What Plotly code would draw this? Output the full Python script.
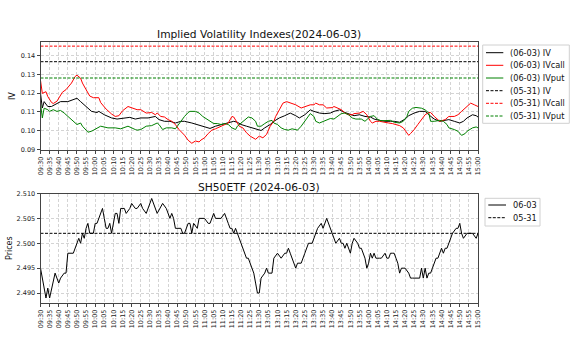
import plotly.graph_objects as go

# ---------------- data ----------------
tick_labels = ["09:30","09:35","09:40","09:45","09:50","09:55","10:00","10:05","10:10","10:15",
               "10:20","10:25","10:30","10:35","10:40","10:45","10:50","10:55","11:00","11:05",
               "11:10","11:15","11:20","11:25","11:30","13:05","13:10","13:15","13:20","13:25",
               "13:30","13:35","13:40","13:45","13:50","13:55","14:00","14:05","14:10","14:15",
               "14:20","14:25","14:30","14:35","14:40","14:45","14:50","14:55","15:00"]
tick_step = 5  # trading minutes between tick labels

iv_ticks = [0.09, 0.10, 0.11, 0.12, 0.13, 0.14]
iv_tick_labels = ["0.09", "0.10", "0.11", "0.12", "0.13", "0.14"]
price_ticks = [2.490, 2.495, 2.500, 2.505, 2.510]
price_tick_labels = ["2.490", "2.495", "2.500", "2.505", "2.510"]

# trading minutes since 09:30 (lunch break removed) and values
iv_t = [0,1,2,4,6,9,11,15,18,20,22,25,28,31,32,35,39,42,46,49,52,55,59,63,65,68,71,74,77,79,
        83,86,90,93,96,99,103,106,108,110,113,116,118,121,123,126,128,131,134,137,140,142,145,148,150,
        153,156,159,161,164,167,170,172,175,178,181,183,186,189,192,194,197,200,202,205,208,211,213,216,
        219,222,224,227,230,232,234,237,239,240]
iv_v = [0.1198,0.1120,0.1154,0.1128,0.1128,0.1146,0.1154,0.1154,0.1163,0.1172,0.1154,0.1128,0.1102,0.1096,0.1102,
        0.1084,0.1067,0.1061,0.1067,0.1070,0.1061,0.1067,0.1067,0.1075,0.1058,0.1049,0.1049,0.1040,0.1049,0.1049,
        0.1040,0.1032,0.1023,0.1011,0.1023,0.1032,0.1040,0.1049,0.1044,0.1032,0.1023,0.1014,0.1005,0.1000,0.1014,
        0.1032,0.1049,0.1067,0.1079,0.1093,0.1079,0.1067,0.1084,0.1110,0.1102,0.1093,0.1090,0.1093,0.1102,0.1110,
        0.1096,0.1084,0.1079,0.1084,0.1075,0.1072,0.1061,0.1054,0.1049,0.1049,0.1049,0.1044,0.1061,0.1079,0.1093,
        0.1102,0.1102,0.1084,0.1061,0.1049,0.1054,0.1058,0.1049,0.1040,0.1049,0.1067,0.1084,0.1079,0.1072]

ivcall_t = [0,1,3,4,6,7,9,11,12,14,17,19,20,22,23,25,27,29,32,33,36,39,41,43,45,48,51,53,55,58,
            61,63,64,66,68,70,72,74,76,79,81,83,85,87,88,90,92,94,96,97,99,101,103,105,106,108,109,111,113,115,
            117,118,120,122,124,126,128,129,131,133,135,138,140,143,145,148,150,151,153,155,157,160,161,163,165,
            167,169,171,172,175,177,179,181,182,184,186,188,191,193,195,197,199,201,202,203,205,207,209,211,213,
            214,216,219,222,224,227,229,231,234,236,238,240]
ivcall_v = [0.1267,0.1198,0.1207,0.1181,0.1150,0.1144,0.1156,0.1191,0.1204,0.1218,0.1253,0.1288,0.1295,0.1279,0.1253,
            0.1218,0.1184,0.1175,0.1175,0.1149,0.1114,0.1088,0.1075,0.1079,0.1105,0.1128,0.1120,0.1111,0.1111,0.1093,
            0.1096,0.1084,0.1093,0.1075,0.1072,0.1058,0.1049,0.1032,0.1005,0.0975,0.0948,0.0932,0.0944,0.0939,0.0949,
            0.0961,0.0984,0.1002,0.1009,0.1014,0.1023,0.1032,0.1040,0.1075,0.1072,0.1040,0.1023,0.1014,0.0988,0.0970,
            0.0961,0.0953,0.0970,0.0961,0.0979,0.1023,0.1049,0.1075,0.1110,0.1146,0.1154,0.1146,0.1137,0.1120,0.1128,
            0.1137,0.1137,0.1146,0.1137,0.1137,0.1120,0.1122,0.1128,0.1120,0.1111,0.1093,0.1084,0.1084,0.1090,0.1093,
            0.1102,0.1084,0.1049,0.1040,0.1049,0.1049,0.1044,0.1040,0.1037,0.1032,0.1026,0.1014,0.0991,0.0974,0.0984,
            0.1005,0.1032,0.1058,0.1084,0.1096,0.1096,0.1075,0.1049,0.1058,0.1075,0.1075,0.1084,0.1102,0.1128,0.1146,
            0.1137,0.1128]

ivput_t = [0,1,2,4,5,7,9,11,13,16,19,20,22,23,25,26,28,31,33,37,41,44,48,52,53,55,58,61,64,65,
           67,69,72,74,75,77,79,81,82,85,87,89,92,95,97,99,101,103,105,107,108,110,112,114,116,118,119,121,123,
           125,127,128,130,132,134,136,138,140,141,143,145,147,148,150,151,153,155,157,159,161,163,165,167,169,
           171,173,176,178,180,181,183,185,187,190,192,194,197,199,201,202,204,206,209,211,213,214,216,219,221,
           223,224,227,229,231,233,234,237,239,240]
ivput_v = [0.1145,0.1067,0.1119,0.1111,0.1102,0.1111,0.1102,0.1107,0.1093,0.1067,0.1040,0.1032,0.1040,0.1023,0.1002,
           0.0991,0.0996,0.1014,0.1023,0.1014,0.1014,0.1009,0.1023,0.1005,0.1002,0.1005,0.1023,0.1026,0.1040,0.1032,
           0.1005,0.1014,0.1014,0.1009,0.1023,0.1049,0.1075,0.1096,0.1102,0.1102,0.1093,0.1075,0.1054,0.1037,0.1037,
           0.1032,0.1037,0.1032,0.1014,0.1005,0.1023,0.1040,0.1058,0.1072,0.1067,0.1049,0.1023,0.1023,0.1037,0.1049,
           0.1054,0.1040,0.1032,0.1014,0.1005,0.1002,0.1009,0.1005,0.1002,0.1023,0.1049,0.1075,0.1090,0.1075,0.1049,
           0.1040,0.1049,0.1058,0.1064,0.1061,0.1075,0.1090,0.1093,0.1084,0.1067,0.1061,0.1061,0.1049,0.1067,0.1075,
           0.1079,0.1058,0.1052,0.1052,0.1054,0.1044,0.1040,0.1049,0.1075,0.1102,0.1119,0.1123,0.1119,0.1110,0.1093,
           0.1049,0.1049,0.1054,0.1049,0.1032,0.1014,0.1005,0.0996,0.0974,0.0984,0.0996,0.1014,0.1019,0.1014]

prev_iv = 0.1367
prev_ivcall = 0.1450
prev_ivput = 0.1280

price_t = [0,3,4,5,8,9,10,11,13,14,15,18,19,20,21,22,23,24,25,26,27,29,30,31,34,35,36,37,38,39,
           41,42,43,44,46,47,49,50,52,53,55,56,58,61,62,63,64,67,69,71,72,73,74,77,78,79,80,81,82,83,
           84,86,87,90,92,93,95,96,99,101,103,104,105,106,107,108,109,110,111,112,113,114,115,116,117,118,119,120,121,123,
           124,125,127,128,130,132,134,135,136,137,138,140,141,143,145,147,149,150,152,154,155,157,159,160,161,162,164,165,166,167,
           168,169,170,171,172,174,175,176,177,178,179,180,181,182,183,184,186,187,189,190,191,192,193,194,195,196,197,198,199,200,
           202,203,204,206,208,209,210,211,212,213,214,215,217,218,219,220,221,222,223,225,226,228,229,230,231,232,234,235,237,239,240]
price_v = [2.495,2.489,2.491,2.489,2.494,2.493,2.492,2.493,2.494,2.494,2.498,2.498,2.499,2.500,2.501,2.500,2.502,2.501,2.503,2.504,
           2.502,2.502,2.504,2.504,2.507,2.505,2.503,2.503,2.504,2.502,2.506,2.506,2.504,2.507,2.507,2.506,2.507,2.508,2.507,2.507,
           2.508,2.507,2.506,2.509,2.508,2.507,2.506,2.508,2.507,2.505,2.506,2.505,2.503,2.503,2.502,2.502,2.503,2.504,2.504,2.502,
           2.504,2.503,2.505,2.505,2.504,2.504,2.506,2.505,2.505,2.506,2.504,2.503,2.503,2.502,2.503,2.502,2.501,2.500,2.499,2.498,
           2.497,2.497,2.496,2.495,2.494,2.492,2.490,2.490,2.493,2.494,2.495,2.494,2.494,2.497,2.498,2.497,2.498,2.498,2.499,2.498,
           2.497,2.495,2.496,2.496,2.498,2.500,2.500,2.501,2.503,2.504,2.503,2.505,2.503,2.502,2.501,2.500,2.501,2.500,2.500,2.499,
           2.500,2.499,2.498,2.500,2.501,2.500,2.499,2.499,2.498,2.497,2.495,2.496,2.498,2.497,2.498,2.497,2.497,2.497,2.498,2.497,
           2.497,2.498,2.498,2.498,2.497,2.496,2.494,2.495,2.495,2.495,2.494,2.493,2.493,2.493,2.493,2.495,2.493,2.495,2.493,2.494,
           2.494,2.495,2.497,2.497,2.498,2.499,2.498,2.499,2.499,2.501,2.502,2.503,2.503,2.504,2.502,2.501,2.502,2.502,2.502,2.501,
           2.502]
prev_price = 2.502

# ---------------- styling helpers ----------------
W, H = 576, 346
def px(x): return x / W
def py(y): return 1 - y / H

FONT = "DejaVu Sans"
C_IV, C_CALL, C_PUT = "black", "red", "green"
DASH = "3px,1.5px"
x0, x1 = 0, 240

fig = go.Figure()
fig.add_trace(go.Scatter(x=iv_t, y=iv_v, mode="lines", line=dict(color=C_IV, width=1), xaxis="x", yaxis="y"))
fig.add_trace(go.Scatter(x=ivcall_t, y=ivcall_v, mode="lines", line=dict(color=C_CALL, width=1), xaxis="x", yaxis="y"))
fig.add_trace(go.Scatter(x=ivput_t, y=ivput_v, mode="lines", line=dict(color=C_PUT, width=1), xaxis="x", yaxis="y"))
for v, c in [(prev_iv, C_IV), (prev_ivcall, C_CALL), (prev_ivput, C_PUT)]:
    fig.add_trace(go.Scatter(x=[x0, x1], y=[v, v], mode="lines", line=dict(color=c, width=1, dash=DASH), xaxis="x", yaxis="y"))
fig.add_trace(go.Scatter(x=price_t, y=price_v, mode="lines", line=dict(color="black", width=1), xaxis="x2", yaxis="y2"))
fig.add_trace(go.Scatter(x=[x0, x1], y=[prev_price, prev_price], mode="lines", line=dict(color="black", width=1, dash=DASH), xaxis="x2", yaxis="y2"))

tickvals = [i * tick_step for i in range(len(tick_labels))]
xdom = [px(40.5), px(478)]
common_x = dict(range=[x0, x1], tickmode="array", tickvals=tickvals, ticktext=tick_labels, tickangle=-90,
                tickfont=dict(family=FONT, size=6.5, color="#222"), showgrid=True, gridcolor="#d4d4d4",
                griddash="3px,2px", gridwidth=1, showline=True, linecolor="#444", linewidth=1, mirror=True,
                ticks="outside", ticklen=3, tickcolor="#444", zeroline=False, automargin=False, domain=xdom)
common_y = dict(tickfont=dict(family=FONT, size=6.5, color="#222"), showgrid=True, gridcolor="#d4d4d4",
                griddash="3px,2px", gridwidth=1, showline=True, linecolor="#444", linewidth=1, mirror=True,
                ticks="outside", ticklen=3, tickcolor="#444", zeroline=False, automargin=False, tickmode="array")

fig.update_layout(
    width=W, height=H, margin=dict(l=0, r=0, t=0, b=0), paper_bgcolor="white", plot_bgcolor="white",
    showlegend=False, font=dict(family=FONT, color="#222"),
    xaxis=dict(common_x, anchor="y"),
    yaxis=dict(common_y, domain=[py(150), py(42)], range=[0.0896, 0.1472], tickvals=iv_ticks,
               ticktext=iv_tick_labels, anchor="x"),
    xaxis2=dict(common_x, anchor="y2"),
    yaxis2=dict(common_y, domain=[py(303), py(193.5)], range=[2.488, 2.510],
                tickvals=price_ticks, ticktext=price_tick_labels, anchor="x2"),
)

ann = []
ann.append(dict(text="Implied Volatility Indexes(2024-06-03)", x=px(259), y=py(34), xref="paper", yref="paper",
                showarrow=False, font=dict(family=FONT, size=10.7, color="#111"), xanchor="center", yanchor="middle"))
ann.append(dict(text="SH50ETF (2024-06-03)", x=px(259), y=py(187), xref="paper", yref="paper",
                showarrow=False, font=dict(family=FONT, size=10.7, color="#111"), xanchor="center", yanchor="middle"))
ann.append(dict(text="IV", x=px(13), y=py(96), xref="paper", yref="paper", textangle=-90,
                showarrow=False, font=dict(family=FONT, size=8, color="#111"), xanchor="center", yanchor="middle"))
ann.append(dict(text="Prices", x=px(9), y=py(248), xref="paper", yref="paper", textangle=-90,
                showarrow=False, font=dict(family=FONT, size=8, color="#111"), xanchor="center", yanchor="middle"))

shapes = []
def legend(box, items, lx0, lx1, tx, ys):
    bx0, by0, bx1, by1 = box
    shapes.append(dict(type="rect", xref="paper", yref="paper", x0=px(bx0), x1=px(bx1), y0=py(by1), y1=py(by0),
                       line=dict(color="#d0d0d0", width=1), fillcolor="rgba(255,255,255,0.8)", layer="above"))
    for (label, color, dash), yy in zip(items, ys):
        shapes.append(dict(type="line", xref="paper", yref="paper", x0=px(lx0), x1=px(lx1), y0=py(yy), y1=py(yy),
                           line=dict(color=color, width=1, dash=dash), layer="above"))
        ann.append(dict(text=label, x=px(tx), y=py(yy), xref="paper", yref="paper", showarrow=False,
                        font=dict(family=FONT, size=8.2, color="#111"), xanchor="left", yanchor="middle",
                        borderpad=0))

legend((482.7, 45, 569.3, 123.3),
       [("(06-03) IV", C_IV, "solid"), ("(06-03) IVcall", C_CALL, "solid"), ("(06-03) IVput", C_PUT, "solid"),
        ("(05-31) IV", C_IV, DASH), ("(05-31) IVcall", C_CALL, DASH), ("(05-31) IVput", C_PUT, DASH)],
       486, 503.3, 509, [52.7, 65.3, 78, 90.7, 103.3, 116])
legend((485, 198.3, 540, 226),
       [("06-03", "black", "solid"), ("05-31", "black", DASH)],
       488.3, 506, 511.5, [205, 217.7])

fig.update_layout(annotations=ann, shapes=shapes)
fig.write_html("out.html")
